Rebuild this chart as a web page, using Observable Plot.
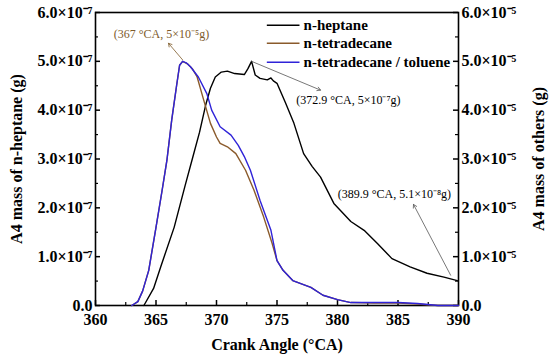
<!DOCTYPE html>
<html>
<head>
<meta charset="utf-8">
<script src="https://cdn.jsdelivr.net/npm/d3@7"></script>
<script src="https://cdn.jsdelivr.net/npm/@observablehq/plot@0.6"></script>
<style>
  html, body { margin: 0; padding: 0; background: #fff; }
</style>
</head>
<body>
<div id="chart"></div>
<script>
// ---- data (heptane in units of 1e-7 g, others in units of 1e-5 g) ----
const heptaneX = [364.0, 364.8, 365.4, 366.5, 367.4, 368.0, 368.6, 369.1, 369.5, 369.9, 370.4, 370.9, 371.5, 372.3, 372.6, 372.9, 373.2, 373.6, 374.2, 374.5, 374.7, 375.0, 375.7, 376.4, 377.2, 377.9, 378.6, 379.7, 381.1, 382.2, 383.3, 384.5, 386.0, 387.4, 388.8, 389.9];
const heptaneY = [0, 0.35, 0.8, 1.6, 2.45, 3.0, 3.55, 4.1, 4.45, 4.68, 4.78, 4.8, 4.75, 4.73, 4.85, 5.0, 4.72, 4.65, 4.62, 4.66, 4.6, 4.55, 4.15, 3.73, 3.11, 2.85, 2.63, 2.09, 1.72, 1.54, 1.27, 0.96, 0.79, 0.66, 0.58, 0.51];

const tetraX = [363.0, 363.5, 363.9, 364.4, 365.0, 365.5, 365.9, 366.3, 366.7, 366.95, 367.2, 367.6, 368.0, 368.4, 368.95, 369.5, 370.0, 370.3, 370.9, 371.6, 372.4, 373.1, 373.9, 374.6, 375.0, 375.5, 376.3, 377.8, 378.8, 380.0, 381.1, 383.0, 385.0, 386.6, 388.3, 390.0];
const tetraY = [0, 0.08, 0.3, 0.72, 1.6, 2.35, 2.97, 3.8, 4.5, 4.92, 5.0, 4.95, 4.85, 4.68, 4.2, 3.73, 3.45, 3.32, 3.25, 3.11, 2.77, 2.36, 1.81, 1.27, 0.92, 0.72, 0.51, 0.37, 0.21, 0.12, 0.06, 0.05, 0.05, 0.03, 0.0, 0.0];

const tolX = [363.0, 363.5, 363.9, 364.4, 365.0, 365.5, 365.9, 366.3, 366.7, 366.95, 367.2, 367.5, 367.85, 368.5, 369.2, 369.6, 370.3, 371.2, 371.8, 372.3, 372.8, 373.6, 374.5, 375.0, 375.5, 376.3, 377.8, 378.8, 380.0, 381.1, 383.0, 385.0, 386.6, 388.3, 390.0];
const tolY = [0, 0.08, 0.3, 0.72, 1.6, 2.35, 2.97, 3.8, 4.5, 4.92, 5.0, 4.97, 4.89, 4.68, 4.34, 4.0, 3.66, 3.49, 3.28, 3.05, 2.77, 2.15, 1.54, 0.92, 0.72, 0.51, 0.37, 0.21, 0.12, 0.06, 0.06, 0.06, 0.04, 0.0, 0.0];

const seriesNames = ["n-heptane", "n-tetradecane", "n-tetradecane / toluene"];
const seriesColors = ["#000000", "#8a5a2b", "#2f23d8"];

const xTicks = [360, 365, 370, 375, 380, 385, 390];
const xMinor = [362.5, 367.5, 372.5, 377.5, 382.5, 387.5];
const yTicks = [0, 1, 2, 3, 4, 5, 6];
const yMinor = [0.5, 1.5, 2.5, 3.5, 4.5, 5.5];

// annotations: point -> label
const annoText = ["(367 \u00B0CA, 5\u00D710\u207B\u2075g)", "(372.9 \u00B0CA, 5\u00D710\u207B\u2077g)", "(389.9 \u00B0CA, 5.1\u00D710\u207B\u2078g)"];
const annoPtX = [367.2, 372.9, 389.35];
const annoPtY = [5.03, 5.0, 0.62];
const annoHeadX = [366.03, 378.6, 386.28];
const annoHeadY = [5.37, 4.41, 2.07];
const annoTextX = [365.45, 380.9, 384.7];
const annoTextY = [5.56, 4.2, 2.27];
const annoColors = ["#7d5a2a", "#555555", "#555555"];
const annoTextColors = ["#7d5a2a", "#000000", "#000000"];

// ---- build tables ----
const lines = [
  ...heptaneX.map((x, i) => ({x, y: heptaneY[i], s: seriesNames[0]})),
  ...tetraX.map((x, i) => ({x, y: tetraY[i], s: seriesNames[1]})),
  ...tolX.map((x, i) => ({x, y: tolY[i], s: seriesNames[2]}))
];
const annos = annoText.map((t, i) => ({
  t, px: annoPtX[i], py: annoPtY[i], hx: annoHeadX[i], hy: annoHeadY[i],
  tx: annoTextX[i], ty: annoTextY[i], c: annoColors[i], tc: annoTextColors[i]
}));

// legend layout (in data space, inside upper-right of frame)
const legX1 = 374.2, legX2 = 376.9, legTX = 377.2;
const legYs = [5.74, 5.37, 4.98];
const legend = seriesNames.map((s, i) => ({s, c: seriesColors[i], y: legYs[i]}));

const W = 550, H = 357;
const mL = 95, mR = 92, mT = 12, mB = 52;
const fw = W - mL - mR, fh = H - mT - mB;

const fmtL = d => d === 0 ? "0.0" : d.toFixed(1) + "\u00D710\u207B\u2077";
const fmtR = d => d === 0 ? "0.0" : d.toFixed(1) + "\u00D710\u207B\u2075";

const chart = Plot.plot({
  width: W, height: H,
  marginLeft: mL, marginRight: mR, marginTop: mT, marginBottom: mB,
  style: {fontFamily: "'Liberation Serif', 'Times New Roman', serif", fontSize: "16px", fontWeight: "bold", background: "#fff", color: "#000"},
  x: {domain: [360, 390]},
  y: {domain: [0, 6]},
  color: {domain: seriesNames, range: seriesColors},
  marks: [
    Plot.axisX(xTicks, {tickSize: 0, tickPadding: 8, tickFormat: d => String(d), label: "Crank Angle (\u00B0CA)", labelAnchor: "center", labelOffset: 44, labelArrow: "none", fontSize: 16}),
    Plot.axisY(yTicks, {anchor: "left", tickSize: 0, tickPadding: 3, tickFormat: fmtL, label: "A4 mass of n-heptane (g)", labelAnchor: "center", labelOffset: 85, labelArrow: "none", fontSize: 16}),
    Plot.axisY(yTicks, {anchor: "right", tickSize: 0, tickPadding: 3, tickFormat: fmtR, label: "A4 mass of others (g)", labelAnchor: "center", labelOffset: 85, labelArrow: "none", fontSize: 16}),
    // inward ticks
    Plot.tickX(xTicks, {x: d => d, insetTop: fh - 5, strokeWidth: 1.5}),
    Plot.tickX(xMinor, {x: d => d, insetTop: fh - 3, strokeWidth: 1.2}),
    Plot.tickY(yTicks, {y: d => d, insetRight: fw - 5, strokeWidth: 1.5}),
    Plot.tickY(yMinor, {y: d => d, insetRight: fw - 3, strokeWidth: 1.2}),
    Plot.tickY(yTicks, {y: d => d, insetLeft: fw - 5, strokeWidth: 1.5}),
    Plot.tickY(yMinor, {y: d => d, insetLeft: fw - 3, strokeWidth: 1.2}),
    Plot.frame({strokeWidth: 1.6}),
    Plot.line(lines, {x: "x", y: "y", z: "s", stroke: "s", strokeWidth: 1.4, curve: "linear"}),
    // annotations
    Plot.arrow(annos, {x1: "px", y1: "py", x2: "hx", y2: "hy", stroke: "c", strokeWidth: 0.8, headLength: 7, insetStart: 0, insetEnd: 0}),
    Plot.text(annos, {x: "tx", y: "ty", text: "t", fill: "tc", textAnchor: "middle", fontSize: 12, fontWeight: "normal"}),
    // legend
    Plot.ruleY(legend, {y: "y", x1: () => legX1, x2: () => legX2, stroke: "c", strokeWidth: 1.6}),
    Plot.text(legend, {x: () => legTX, y: "y", text: "s", textAnchor: "start", fontSize: 15, fontWeight: "bold", fill: "#000"})
  ]
});
document.getElementById("chart").appendChild(chart);
</script>
</body>
</html>
